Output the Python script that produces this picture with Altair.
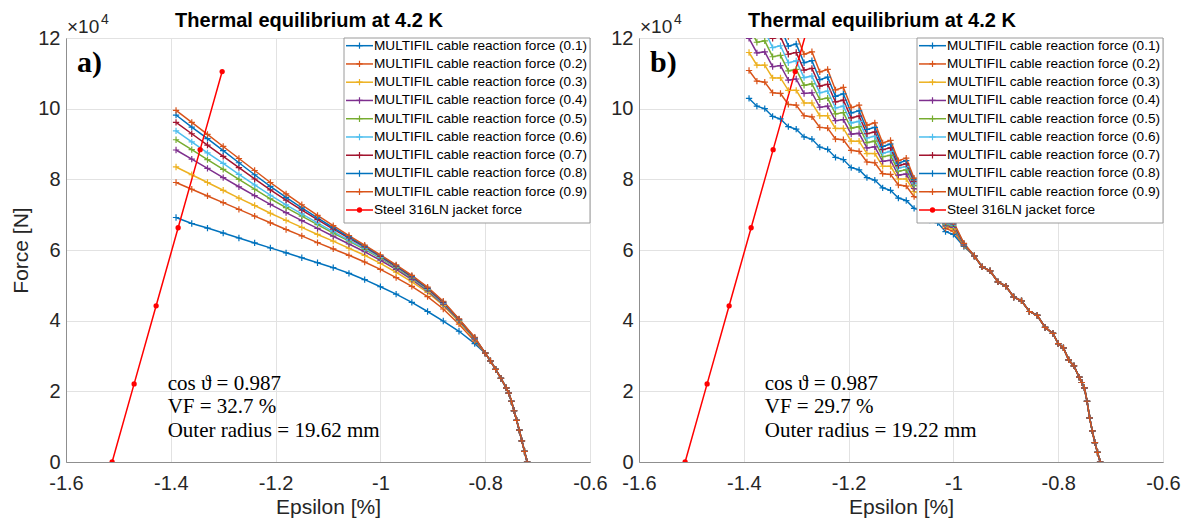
import altair as alt
import pandas as pd

FONT = "Liberation Sans"
SERIF = "Liberation Serif"
GRAY = "#8f8f8f"
GRIDC = "#e2e2e2"
TXT = "#262626"

SERIES = [
    "MULTIFIL cable reaction force (0.1)",
    "MULTIFIL cable reaction force (0.2)",
    "MULTIFIL cable reaction force (0.3)",
    "MULTIFIL cable reaction force (0.4)",
    "MULTIFIL cable reaction force (0.5)",
    "MULTIFIL cable reaction force (0.6)",
    "MULTIFIL cable reaction force (0.7)",
    "MULTIFIL cable reaction force (0.8)",
    "MULTIFIL cable reaction force (0.9)",
]
STEEL = "Steel 316LN jacket force"
LABELS = SERIES + [STEEL]
COLORS = ["#0072BD", "#D95319", "#EDB120", "#7E2F8E", "#77AC30",
          "#4DBEEE", "#A2142F", "#0072BD", "#D95319", "#FF0000"]

TITLE = "Thermal equilibrium at 4.2 K"
X_TICKS = [-1.6, -1.4, -1.2, -1.0, -0.8, -0.6]
Y_TICKS = [0, 2, 4, 6, 8, 10, 12]

# ---------------- panel a (force in units of 1e4 N) ----------------
A_HEAD_X = [-1.39, -1.36, -1.33, -1.30, -1.27, -1.24, -1.21, -1.18, -1.15, -1.12,
            -1.09, -1.06, -1.03, -1.00, -0.97, -0.94, -0.91, -0.88, -0.85, -0.82]
A_01 = [6.92, 6.75, 6.62, 6.48, 6.34, 6.20, 6.06, 5.92, 5.78, 5.64, 5.50, 5.34, 5.16, 4.96, 4.75, 4.52, 4.26, 3.99, 3.70, 3.35]
A_02 = [7.91, 7.72, 7.53, 7.34, 7.15, 6.96, 6.77, 6.58, 6.40, 6.21, 6.03, 5.85, 5.66, 5.45, 5.22, 4.97, 4.68, 4.33, 3.90, 3.42]
A_03 = [8.35, 8.13, 7.91, 7.69, 7.47, 7.26, 7.04, 6.84, 6.64, 6.44, 6.25, 6.05, 5.85, 5.62, 5.37, 5.10, 4.80, 4.43, 3.97, 3.46]
A_04 = [8.83, 8.57, 8.31, 8.05, 7.79, 7.54, 7.29, 7.06, 6.83, 6.61, 6.39, 6.17, 5.95, 5.71, 5.45, 5.16, 4.84, 4.46, 4.00, 3.48]
A_05 = [9.12, 8.84, 8.56, 8.28, 8.00, 7.72, 7.45, 7.20, 6.96, 6.72, 6.48, 6.25, 6.02, 5.77, 5.50, 5.20, 4.87, 4.48, 4.01, 3.49]
A_06 = [9.37, 9.06, 8.75, 8.45, 8.14, 7.84, 7.55, 7.28, 7.02, 6.77, 6.52, 6.28, 6.05, 5.79, 5.52, 5.22, 4.89, 4.49, 4.02, 3.50]
A_07 = [9.61, 9.29, 8.97, 8.65, 8.33, 8.01, 7.70, 7.41, 7.13, 6.86, 6.59, 6.34, 6.09, 5.82, 5.54, 5.24, 4.91, 4.51, 4.03, 3.51]
A_08 = [9.82, 9.48, 9.15, 8.81, 8.47, 8.13, 7.80, 7.49, 7.19, 6.91, 6.63, 6.37, 6.11, 5.84, 5.56, 5.26, 4.93, 4.53, 4.04, 3.52]
A_09 = [9.95, 9.61, 9.27, 8.93, 8.59, 8.25, 7.91, 7.59, 7.28, 6.98, 6.69, 6.41, 6.14, 5.86, 5.58, 5.28, 4.95, 4.55, 4.05, 3.53]
A_TAIL_X = [-0.80, -0.79, -0.78, -0.77, -0.76, -0.755, -0.75, -0.745, -0.74, -0.735, -0.73, -0.725, -0.72]
A_TAIL_Y = [3.08, 2.86, 2.62, 2.37, 2.10, 1.95, 1.72, 1.45, 1.18, 0.90, 0.60, 0.30, 0.00]
STEEL_A_X = [-1.512, -1.470, -1.428, -1.386, -1.344, -1.302]
STEEL_A_Y = [0.0, 2.21, 4.42, 6.63, 8.84, 11.05]
NOTES_A = ["cos \u03d1 = 0.987", "VF = 32.7 %", "Outer radius = 19.62 mm"]

# ---------------- panel b ----------------
B_HEAD_X = [-1.39, -1.375, -1.36, -1.345, -1.33, -1.315, -1.30, -1.285, -1.27, -1.255,
            -1.24, -1.225, -1.21, -1.195, -1.18, -1.165, -1.15, -1.135, -1.12, -1.105,
            -1.09, -1.075, -1.06, -1.045, -1.03, -1.015, -1.00, -0.98]
B_01 = [10.29, 10.07, 10.00, 9.78, 9.71, 9.49, 9.42, 9.20, 9.14, 8.91, 8.85, 8.62, 8.56, 8.33, 8.27, 8.05, 7.98, 7.76, 7.69, 7.47, 7.40, 7.18, 7.10, 6.85, 6.77, 6.52, 6.44, 6.10]
B_02 = [11.08, 10.78, 10.75, 10.45, 10.43, 10.12, 10.10, 9.80, 9.77, 9.47, 9.45, 9.14, 9.12, 8.82, 8.79, 8.49, 8.47, 8.16, 8.14, 7.84, 7.81, 7.51, 7.43, 7.06, 6.98, 6.61, 6.53, 6.12]
B_03 = [11.59, 11.23, 11.23, 10.87, 10.87, 10.52, 10.52, 10.16, 10.16, 9.80, 9.80, 9.44, 9.44, 9.08, 9.08, 8.73, 8.73, 8.37, 8.37, 8.01, 8.01, 7.65, 7.58, 7.15, 7.09, 6.66, 6.59, 6.13]
B_04 = [11.99, 11.58, 11.61, 11.19, 11.22, 10.81, 10.84, 10.43, 10.45, 10.04, 10.07, 9.66, 9.69, 9.28, 9.30, 8.89, 8.92, 8.51, 8.54, 8.12, 8.15, 7.74, 7.70, 7.21, 7.17, 6.68, 6.64, 6.14]
B_05 = [12.32, 11.88, 11.92, 11.47, 11.51, 11.07, 11.11, 10.66, 10.70, 10.26, 10.30, 9.85, 9.89, 9.45, 9.49, 9.04, 9.08, 8.64, 8.68, 8.23, 8.27, 7.83, 7.79, 7.27, 7.24, 6.72, 6.68, 6.15]
B_06 = [12.63, 12.16, 12.20, 11.73, 11.78, 11.30, 11.35, 10.88, 10.92, 10.45, 10.50, 10.02, 10.07, 9.60, 9.64, 9.17, 9.22, 8.74, 8.79, 8.32, 8.36, 7.89, 7.86, 7.31, 7.29, 6.74, 6.71, 6.16]
B_07 = [12.94, 12.44, 12.49, 11.99, 12.04, 11.54, 11.59, 11.09, 11.14, 10.64, 10.69, 10.19, 10.24, 9.74, 9.79, 9.29, 9.34, 8.84, 8.89, 8.39, 8.44, 7.94, 7.92, 7.35, 7.33, 6.76, 6.74, 6.17]
B_08 = [13.25, 12.71, 12.78, 12.24, 12.31, 11.77, 11.83, 11.30, 11.36, 10.82, 10.89, 10.35, 10.42, 9.88, 9.94, 9.41, 9.47, 8.93, 9.00, 8.46, 8.53, 7.99, 7.99, 7.38, 7.38, 6.77, 6.77, 6.18]
B_09 = [13.61, 13.04, 13.11, 12.54, 12.61, 12.04, 12.11, 11.54, 11.61, 11.04, 11.11, 10.53, 10.60, 10.03, 10.10, 9.53, 9.60, 9.03, 9.10, 8.53, 8.60, 8.03, 8.04, 7.41, 7.42, 6.79, 6.80, 6.19]
B_TAIL_X = [-0.96, -0.945, -0.93, -0.915, -0.90, -0.885, -0.87, -0.855, -0.84, -0.825, -0.81, -0.80,
            -0.79, -0.78, -0.77, -0.76, -0.755, -0.75, -0.745, -0.74, -0.735, -0.73, -0.725, -0.72]
B_TAIL_Y = [5.83, 5.52, 5.41, 5.10, 4.98, 4.67, 4.56, 4.26, 4.15, 3.81, 3.64, 3.35,
            3.23, 2.89, 2.72, 2.40, 2.25, 2.10, 1.72, 1.25, 0.88, 0.55, 0.27, 0.00]
STEEL_B_X = [-1.512, -1.470, -1.428, -1.386, -1.344, -1.302, -1.260]
STEEL_B_Y = [0.0, 2.21, 4.42, 6.63, 8.84, 11.05, 13.26]
NOTES_B = ["cos \u03d1 = 0.987", "VF = 29.7 %", "Outer radius = 19.22 mm"]

NOTE_Y = 2.04
NOTE_X_A = -1.406
NOTE_X_B = -1.36

W, H = 524, 424
PLUS = "M-1,0H1M0,-1V1"


def build_df(head_x, heads, tail_x, tail_y, steel_x, steel_y):
    rows = []
    for lab, ys in zip(SERIES, heads):
        assert len(ys) == len(head_x), lab
        for j, (x, y) in enumerate(zip(head_x + tail_x, ys + tail_y)):
            rows.append({"series": lab, "kind": "cable", "x": x, "y": y, "idx": j})
    assert len(steel_x) == len(steel_y)
    for j, (x, y) in enumerate(zip(steel_x, steel_y)):
        rows.append({"series": STEEL, "kind": "steel", "x": x, "y": y, "idx": j})
    return pd.DataFrame(rows)


def panel(df, notes, note_x, letter, y_title):
    xs = alt.Scale(domain=[-1.6, -0.6], nice=False, zero=False)
    ys = alt.Scale(domain=[0, 12], nice=False, zero=False)
    col = alt.Color("series:N", scale=alt.Scale(domain=LABELS, range=COLORS), legend=None)
    ax_x = alt.Axis(values=X_TICKS, labelExpr="'' + datum.value", title="Epsilon [%]",
                    titleFontSize=21, titleFont=FONT, titleFontWeight="normal", titleColor=TXT,
                    titlePadding=3, labelFontSize=20, labelFont=FONT, labelColor=TXT,
                    labelPadding=11, tickSize=0, domainColor=GRAY, grid=True, gridColor=GRIDC,
                    labelFlush=False, labelOverlap=False)
    ax_y = alt.Axis(values=Y_TICKS, title=y_title, titleFontSize=21, titleFont=FONT,
                    titleFontWeight="normal", titleColor=TXT, titlePadding=6,
                    labelFontSize=20, labelFont=FONT, labelColor=TXT, labelPadding=6,
                    tickSize=0, domainColor=GRAY, grid=True, gridColor=GRIDC,
                    labelFlush=False, labelOverlap=False)
    Xd = alt.X("x:Q", scale=xs)
    Yn = alt.Y("y:Q", scale=ys, axis=None)
    base = alt.Chart(df)
    lines = base.mark_line(strokeWidth=1.5, clip=True).encode(
        x=alt.X("x:Q", scale=xs, axis=ax_x),
        y=alt.Y("y:Q", scale=ys, axis=ax_y),
        color=col, detail="series:N", order="idx:Q")
    plus = base.transform_filter("datum.kind == 'cable'").mark_point(
        shape=PLUS, filled=False, size=40, strokeWidth=1.2, opacity=1, clip=True
    ).encode(x=Xd, y=Yn, color=col)
    dots = base.transform_filter("datum.kind == 'steel'").mark_point(
        shape="circle", filled=True, size=28, opacity=1, clip=True
    ).encode(x=Xd, y=Yn, color=col)

    note = alt.Chart(pd.DataFrame({"x": [note_x], "y": [NOTE_Y]})).mark_text(
        text=notes, font=SERIF, fontSize=21, align="left", baseline="alphabetic",
        lineHeight=23.4, color="black"
    ).encode(x=Xd, y=Yn)

    one = pd.DataFrame({"k": [0]})
    let = alt.Chart(one).mark_text(text=letter, font=SERIF, fontWeight="bold", fontSize=30,
                                   align="left", baseline="alphabetic", color="black").encode(
        x=alt.value(11), y=alt.value(34))

    ttl = alt.Chart(one).mark_text(text=TITLE, font=FONT, fontWeight="bold", fontSize=20,
                                   align="center", baseline="alphabetic", color="black").encode(
        x=alt.value(243), y=alt.value(-11.3))
    x10 = alt.Chart(one).mark_text(text="\u00d710", font=FONT, fontSize=19, align="left",
                                   baseline="alphabetic", color=TXT).encode(
        x=alt.value(1), y=alt.value(-5))
    exp4 = alt.Chart(one).mark_text(text="4", font=FONT, fontSize=14, align="left",
                                    baseline="alphabetic", color=TXT).encode(
        x=alt.value(35), y=alt.value(-14.5))

    leg_df = pd.DataFrame({"series": LABELS, "kind": ["cable"] * 9 + ["steel"]})
    ly = alt.Y("series:N", scale=alt.Scale(type="point", domain=LABELS, range=[7.7, 172], padding=0),
               axis=None)
    box = alt.Chart(one).mark_rect(fill="white", stroke="#9a9a9a", strokeWidth=1).encode(
        x=alt.value(W - 246), x2=alt.value(W), y=alt.value(0), y2=alt.value(185))
    lrule = alt.Chart(leg_df).mark_rule(strokeWidth=1.5).encode(
        x=alt.value(W - 244), x2=alt.value(W - 217), y=ly, color=col)
    lplus = alt.Chart(leg_df).transform_filter("datum.kind == 'cable'").mark_point(
        shape=PLUS, filled=False, size=40, strokeWidth=1.2, opacity=1).encode(
        x=alt.value(W - 230.5), y=ly, color=col)
    ldot = alt.Chart(leg_df).transform_filter("datum.kind == 'steel'").mark_point(
        shape="circle", filled=True, size=28, opacity=1).encode(
        x=alt.value(W - 230.5), y=ly, color=col)
    ltext = alt.Chart(leg_df).mark_text(align="left", baseline="middle", font=FONT,
                                        fontSize=13.6, color="black").encode(
        x=alt.value(W - 216), y=ly, text="series:N")

    return alt.layer(lines, plus, dots, note, let, box, lrule, lplus, ldot, ltext,
                     ttl, x10, exp4).resolve_scale(y="independent").properties(width=W, height=H)


df_a = build_df(A_HEAD_X, [A_01, A_02, A_03, A_04, A_05, A_06, A_07, A_08, A_09],
                A_TAIL_X, A_TAIL_Y, STEEL_A_X, STEEL_A_Y)
df_b = build_df(B_HEAD_X, [B_01, B_02, B_03, B_04, B_05, B_06, B_07, B_08, B_09],
                B_TAIL_X, B_TAIL_Y, STEEL_B_X, STEEL_B_Y)

pa = panel(df_a, NOTES_A, NOTE_X_A, "a)", "Force [N]")
pb = panel(df_b, NOTES_B, NOTE_X_B, "b)", "")

chart = alt.hconcat(pa, pb, spacing=2).properties(
    padding={"left": 2, "top": 2, "right": 0, "bottom": 0}, background="white"
).configure_view(stroke=GRAY, strokeWidth=1)

chart.save("out.html", embed_options={"renderer": "svg", "actions": False})
